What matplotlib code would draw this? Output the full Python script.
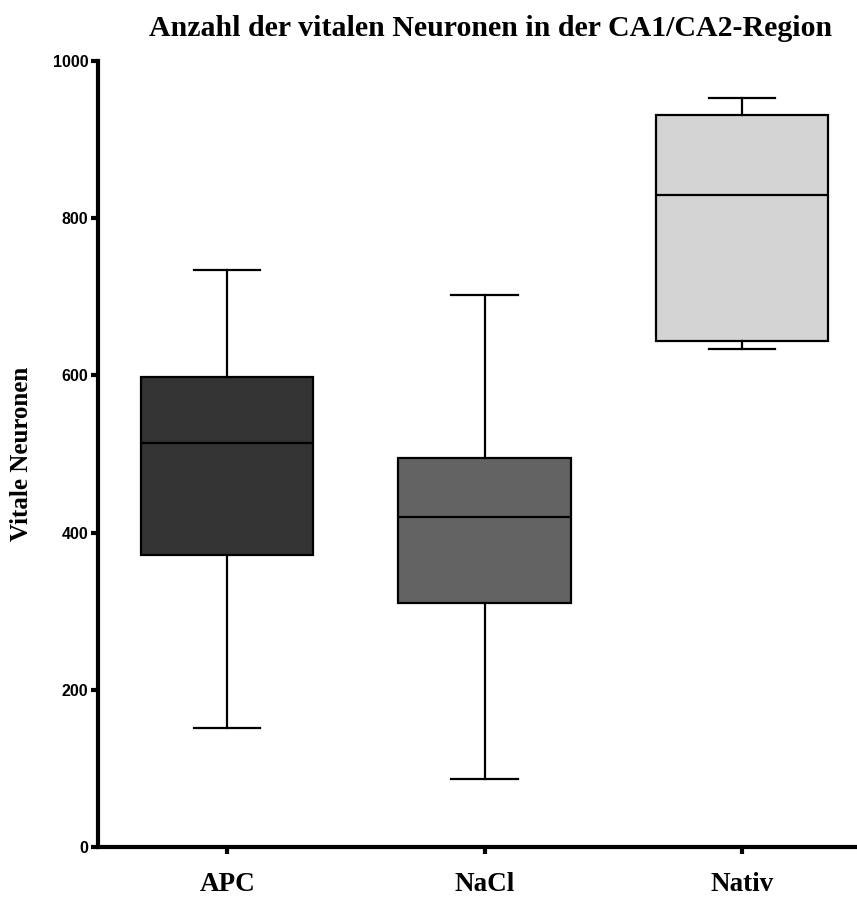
import matplotlib
matplotlib.use("Agg")
import matplotlib.pyplot as plt

# data
groups = ["APC", "NaCl", "Nativ"]
whislo = [151, 87, 634]
q1 = [371, 310, 644]
med = [514, 420, 830]
q3 = [598, 495, 931]
whishi = [734, 702, 953]
colors = ["#333333", "#636363", "#d4d4d4"]

stats = []
for i, g in enumerate(groups):
    stats.append(dict(label=g, whislo=whislo[i], q1=q1[i], med=med[i],
                      q3=q3[i], whishi=whishi[i], fliers=[]))

fig = plt.figure(figsize=(8.57, 8.97), dpi=100)
ax = fig.add_axes([0.1144, 0.0557, 0.8833, 0.8763])

bp = ax.bxp(stats, positions=range(len(groups)), widths=0.67, patch_artist=True,
            showfliers=False,
            boxprops=dict(linewidth=1.6, edgecolor="black"),
            medianprops=dict(color="black", linewidth=1.6),
            whiskerprops=dict(color="black", linewidth=1.6),
            capprops=dict(color="black", linewidth=1.6),
            capwidths=0.257)
for patch, c in zip(bp["boxes"], colors):
    patch.set_facecolor(c)

ax.set_xlim(-0.502, 2.44)
ax.set_ylim(0, 1000)
ax.set_yticks([0, 200, 400, 600, 800, 1000])

for s in ["top", "right"]:
    ax.spines[s].set_visible(False)
for s in ["left", "bottom"]:
    ax.spines[s].set_linewidth(3)

ax.tick_params(axis="y", direction="out", length=5, width=3, pad=2)
ax.tick_params(axis="x", direction="out", length=5, width=3, pad=13)
for lab in ax.get_yticklabels():
    lab.set_fontfamily("Liberation Sans")
    lab.set_fontweight("bold")
    lab.set_fontsize(11.5)
for lab in ax.get_xticklabels():
    lab.set_fontfamily("Liberation Serif")
    lab.set_fontweight("bold")
    lab.set_fontsize(19.5)

ax.set_ylabel("Vitale Neuronen", fontfamily="Liberation Serif",
              fontweight="bold", fontsize=18, labelpad=14)
fig.suptitle("Anzahl der vitalen Neuronen in der CA1/CA2-Region",
             fontfamily="Liberation Serif", fontweight="bold", fontsize=21.5,
             x=0.572, y=0.983)

fig.savefig("out.png", dpi=100)
